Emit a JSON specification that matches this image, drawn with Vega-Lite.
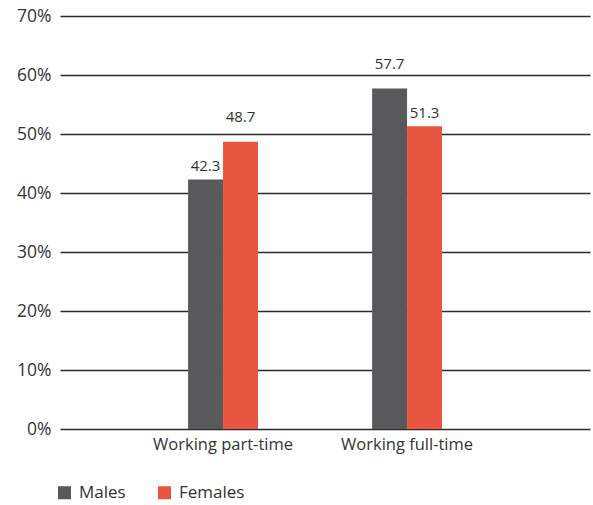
{
  "$schema": "https://vega.github.io/schema/vega-lite/v6.json",
  "width": 530,
  "height": 413,
  "autosize": {"type": "none"},
  "padding": {"left": 60, "top": 16, "right": 3, "bottom": 76},
  "config": {
    "view": {"stroke": null},
    "font": "Open Sans",
    "text": {"font": "Open Sans"}
  },
  "data": {
    "values": [
      {"status": "Working part-time", "sex": "Males", "pct": 42.3},
      {"status": "Working part-time", "sex": "Females", "pct": 48.7},
      {"status": "Working full-time", "sex": "Males", "pct": 57.7},
      {"status": "Working full-time", "sex": "Females", "pct": 51.3}
    ]
  },
  "encoding": {
    "x": {
      "field": "status",
      "type": "nominal",
      "sort": ["Working part-time", "Working full-time"],
      "scale": {"paddingInner": 0.62, "paddingOuter": 0.75, "align": 0.464},
      "axis": {
        "title": null,
        "labelAngle": 0,
        "domain": false,
        "ticks": false,
        "labelFontSize": 16.5,
        "labelColor": "#333333",
        "labelPadding": 7
      }
    },
    "xOffset": {
      "field": "sex",
      "type": "nominal",
      "sort": ["Males", "Females"],
      "scale": {"paddingInner": 0, "paddingOuter": 0}
    },
    "y": {
      "field": "pct",
      "type": "quantitative",
      "scale": {"domain": [0, 70], "nice": false},
      "axis": {
        "title": null,
        "values": [0, 10, 20, 30, 40, 50, 60, 70],
        "labelExpr": "datum.value + '%'",
        "domain": false,
        "ticks": false,
        "grid": true,
        "gridColor": "#2b2b2b",
        "gridWidth": 1.5,
        "gridOpacity": 1,
        "labelFontSize": 17.5,
        "labelColor": "#333333",
        "labelPadding": 9
      }
    }
  },
  "layer": [
    {
      "mark": {"type": "bar"},
      "encoding": {
        "color": {
          "field": "sex",
          "type": "nominal",
          "sort": ["Males", "Females"],
          "scale": {"domain": ["Males", "Females"], "range": ["#58595b", "#e8563f"]},
          "legend": {
            "title": null,
            "orient": "none",
            "direction": "horizontal",
            "legendX": -4,
            "legendY": 468,
            "symbolType": "square",
            "symbolSize": 170,
            "symbolStrokeWidth": 0,
            "labelFontSize": 17,
            "labelColor": "#333333",
            "columnPadding": 30,
            "labelOffset": 6
          }
        }
      }
    },
    {
      "transform": [{"filter": "(datum.pct % 10) < 5"}],
      "mark": {"type": "text", "baseline": "bottom", "dy": -5, "fontSize": 15, "color": "#333333"},
      "encoding": {
        "text": {"field": "pct", "type": "quantitative", "format": ".1f"}
      }
    },
    {
      "transform": [{"filter": "(datum.pct % 10) >= 5"}],
      "mark": {"type": "text", "baseline": "bottom", "dy": -17, "fontSize": 15, "color": "#333333"},
      "encoding": {
        "text": {"field": "pct", "type": "quantitative", "format": ".1f"}
      }
    }
  ]
}
